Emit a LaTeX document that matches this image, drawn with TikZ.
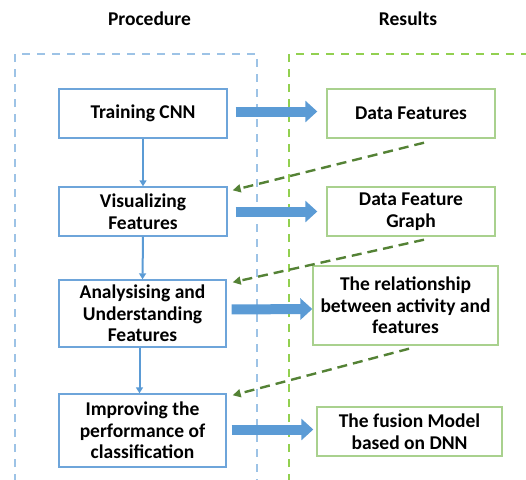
\documentclass[tikz,border=0pt]{standalone}
\usepackage{fontspec}
\setmainfont{Carlito}
\usetikzlibrary{arrows.meta,calc}
\definecolor{procblue}{RGB}{157,195,230}
\definecolor{boxblue}{RGB}{110,165,218}
\definecolor{arrowblue}{RGB}{91,155,213}
\definecolor{resgreen}{RGB}{146,208,80}
\definecolor{boxgreen}{RGB}{169,209,142}
\definecolor{darkgreen}{RGB}{84,130,53}
\begin{document}
\begin{tikzpicture}[x=1pt,y=-1pt,
  every node/.style={font=\fontsize{19.5}{21.5}\selectfont\bfseries, align=center, inner sep=0pt},
  procbox/.style={draw=boxblue, line width=1.4pt, fill=white},
  resbox/.style={draw=boxgreen, line width=1.4pt, fill=white},
  frameblue/.style={draw=procblue, line width=2pt, dash pattern=on 8pt off 7pt},
  framegreen/.style={draw=resgreen, line width=2pt, dash pattern=on 8pt off 7pt},
  fat/.style={draw=arrowblue, line width=10pt, -{Triangle[length=12pt,width=21pt]}},
  thin/.style={draw=arrowblue, line width=2pt, -{Triangle[length=6pt,width=7pt]}},
  back/.style={draw=darkgreen, line width=2.4pt, dash pattern=on 10pt off 6pt, -{Triangle[length=8pt,width=8pt]}}
]
\useasboundingbox (0,0) rectangle (526,479);
% titles
\node (tp) at (149.5,19) {Procedure};
\node (tr) at (408,19) {Results};
% frames
\draw[frameblue] (15,482) -- (15,54) -- (257,54) -- (257,482);
\draw[framegreen] (289,482) -- (289,54) -- (530,54);
% procedure boxes
\node[procbox, minimum width=168pt, minimum height=49pt] (b1) at (143,113.5) {Training CNN};
\node[procbox, minimum width=168pt, minimum height=49pt] (b2) at (143,211.5) {Visualizing\\Features};
\node[procbox, minimum width=167pt, minimum height=67pt] (b3) at (142.5,313.5) {Analysising and\\Understanding\\Features};
\node[procbox, minimum width=167pt, minimum height=73pt] (b4) at (142.5,430.5) {Improving the\\performance of\\classification};
% result boxes
\node[resbox, minimum width=168pt, minimum height=49pt] (g1) at (411,113.5) {Data Features};
\node[resbox, minimum width=168pt, minimum height=49pt] (g2) at (411,211.5) {Data Feature\\Graph};
\node[resbox, minimum width=185pt, minimum height=79pt] (g3) at (405.5,305.5) {The relationship\\between activity and\\features};
\node[resbox, minimum width=185pt, minimum height=49pt] (g4) at (409.5,431.5) {The fusion Model\\based on DNN};
% fat arrows
\draw[fat, shorten <=8pt, shorten >=9pt] ($(b1.east)+(0,-2)$) -- ($(g1.west)+(0,-2)$);
\draw[fat, shorten <=8pt, shorten >=9pt] ($(b2.east)+(0,0)$) -- ($(g2.west)+(0,0)$);
\draw[fat, shorten <=5pt, shorten >=0pt] ($(b3.east)+(0,-4)$) -- ($(g3.west)+(0,3.5)$);
\draw[fat, shorten <=5pt, shorten >=3pt] ($(b4.east)+(0,-1)$) -- ($(g4.west)+(0,-2)$);
% thin arrows
\draw[thin] (b1.south) -- (b2.north);
\draw[thin] (b2.south) -- (b3.north);
\draw[thin] ($(b3.south)+(-3,0)$) -- ($(b4.north)+(-3,0)$);
% green feedback arrows
\coordinate (s1) at ($(g1.south)+(13,4)$);
\coordinate (s2) at ($(g2.south)+(13,3)$);
\coordinate (s3) at ($(g3.south)+(3.5,3)$);
\draw[back] (s1) -- ($(b2.north east)+(5,4)$);
\draw[back] (s2) -- ($(b3.north east)+(6,3)$);
\draw[back] (s3) -- ($(b4.north east)+(6,2)$);
\end{tikzpicture}
\end{document}
